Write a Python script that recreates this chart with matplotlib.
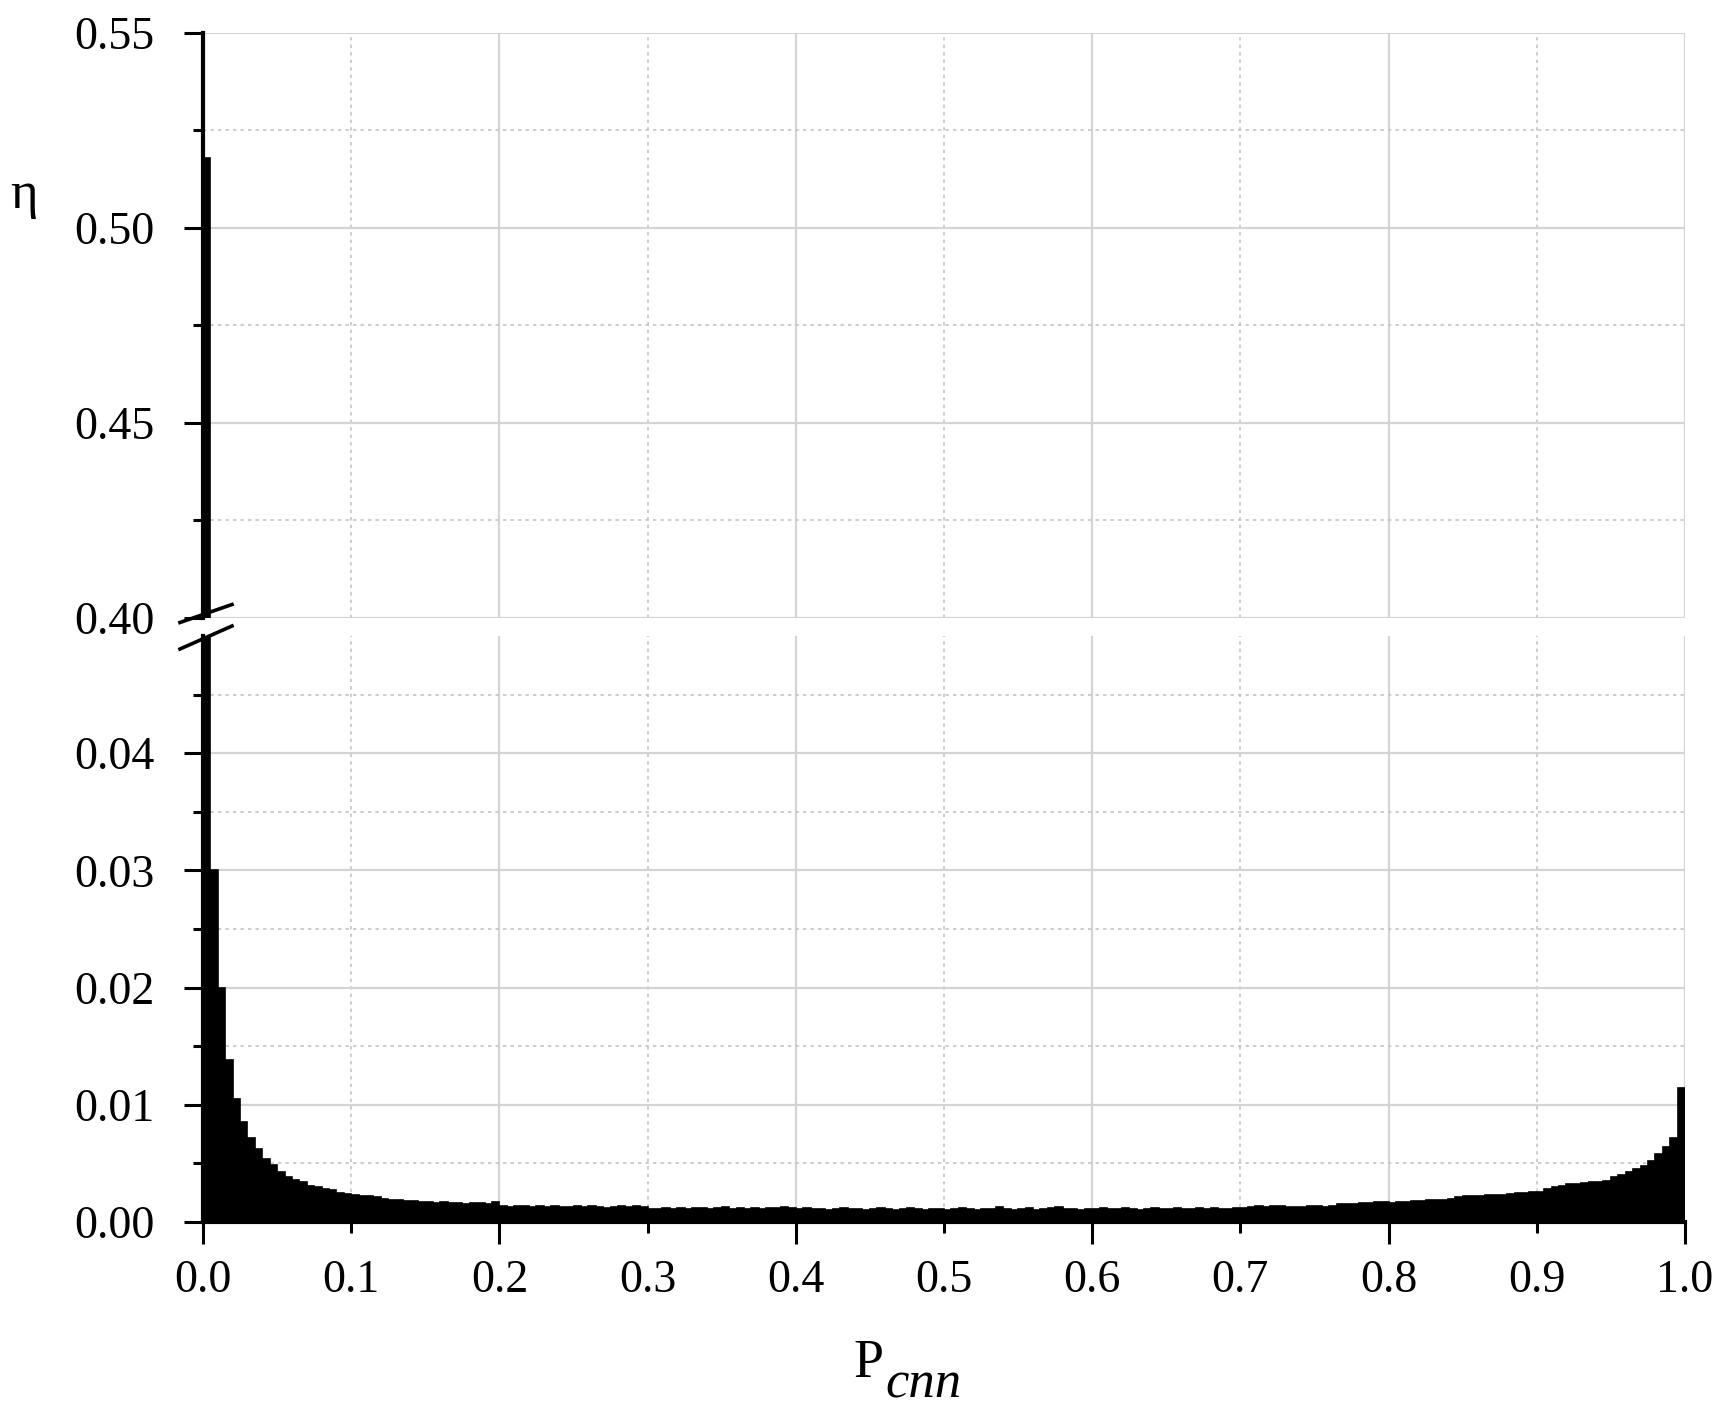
import numpy as np
import matplotlib
matplotlib.use("Agg")
import matplotlib.pyplot as plt
from matplotlib.lines import Line2D

plt.rcParams['font.family'] = ['Liberation Serif', 'DejaVu Serif']

# histogram of P_cnn, 200 bins of width 0.005 on [0, 1]
bin_width = 0.005
eta = [
    0.518, 0.030, 0.020, 0.0138, 0.0105, 0.0085, 0.0072, 0.0062, 0.0054, 0.0049,
    0.0043, 0.0038, 0.0036, 0.0034, 0.0031, 0.0030, 0.0028, 0.0027, 0.0025, 0.0024,
    0.0023, 0.0022, 0.0022, 0.0021, 0.0020, 0.0019, 0.0019, 0.0018, 0.0018, 0.0017,
    # 0.15 - 0.20
    0.0017, 0.0016, 0.0017, 0.0016, 0.0016, 0.0015, 0.0016, 0.0016, 0.0015, 0.0017,
    # 0.20 - 0.30
    0.0014, 0.0013, 0.0014, 0.0014, 0.0013, 0.0014, 0.0013, 0.0014, 0.0013, 0.0013,
    0.0014, 0.0013, 0.0014, 0.0013, 0.0012, 0.0013, 0.0014, 0.0013, 0.0014, 0.0013,
    # 0.30 - 0.40
    0.0011, 0.0011, 0.0012, 0.0011, 0.0012, 0.0011, 0.0012, 0.0012, 0.0011, 0.0012,
    0.0013, 0.0011, 0.0012, 0.0011, 0.0012, 0.0011, 0.0012, 0.0012, 0.0013, 0.0012,
    # 0.40 - 0.50
    0.0011, 0.0012, 0.0011, 0.0011, 0.0010, 0.0011, 0.0012, 0.0011, 0.0011, 0.0010,
    0.0011, 0.0012, 0.0011, 0.0010, 0.0011, 0.0012, 0.0011, 0.0010, 0.0011, 0.0011,
    # 0.50 - 0.60
    0.0010, 0.0011, 0.0012, 0.0011, 0.0010, 0.0011, 0.0011, 0.0013, 0.0011, 0.0010,
    0.0011, 0.0012, 0.0010, 0.0011, 0.0012, 0.0013, 0.0011, 0.0011, 0.0010, 0.0011,
    # 0.60 - 0.70
    0.0011, 0.0012, 0.0011, 0.0011, 0.0012, 0.0011, 0.0010, 0.0011, 0.0012, 0.0011,
    0.0011, 0.0012, 0.0011, 0.0011, 0.0012, 0.0011, 0.0012, 0.0011, 0.0011, 0.0012,
    # 0.70 - 0.80
    0.0012, 0.0013, 0.0014, 0.0013, 0.0014, 0.0014, 0.0013, 0.0013, 0.0013, 0.0014,
    0.0014, 0.0013, 0.0014, 0.0015, 0.0015, 0.0015, 0.0016, 0.0016, 0.0017, 0.0017,
    # 0.80 - 0.90
    0.0016, 0.0017, 0.0017, 0.0018, 0.0018, 0.0019, 0.0019, 0.0019, 0.0020, 0.0021,
    0.0022, 0.0022, 0.0022, 0.0023, 0.0023, 0.0023, 0.0024, 0.0025, 0.0025, 0.0026,
    # 0.90 - 1.00
    0.0026, 0.0028, 0.0030, 0.0031, 0.0032, 0.0032, 0.0033, 0.0034, 0.0034, 0.0035,
    0.0038, 0.0040, 0.0043, 0.0045, 0.0048, 0.0052, 0.0058, 0.0064, 0.0072, 0.0114,
]
edges = np.arange(len(eta) + 1) * bin_width

x_major = [0.0, 0.2, 0.4, 0.6, 0.8, 1.0]
x_minor = [0.1, 0.3, 0.5, 0.7, 0.9]
upper_major = [0.40, 0.45, 0.50, 0.55]
upper_minor = [0.425, 0.475, 0.525]
lower_major = [0.00, 0.01, 0.02, 0.03, 0.04]
lower_minor = [0.005, 0.015, 0.025, 0.035, 0.045]

W, H = 1723, 1411
fig = plt.figure(figsize=(W / 100, H / 100), dpi=100)
left = 203 / W
width = (1685 - 203) / W
ax_top = fig.add_axes([left, 1 - 617.6 / H, width, (617.6 - 33) / H])
ax_bot = fig.add_axes([left, 1 - 1222 / H, width, (1222 - 636) / H])

fs = 33
for ax in (ax_top, ax_bot):
    ax.stairs(eta, edges, fill=True, color='black', linewidth=1.2)
    ax.stairs(eta, edges, fill=False, color='black', linewidth=1.2)
    ax.set_xlim(0, 1.0)
    ax.set_axisbelow(True)
    ax.set_xticks(x_major)
    ax.set_xticks(x_minor, minor=True)
    ax.grid(which='major', color='#d4d4d4', linewidth=1.6, linestyle='-')
    ax.grid(which='minor', color='#c4c4c4', linewidth=1.2, linestyle=(0, (2, 2.5)))
    ax.spines['top'].set_visible(False)
    ax.spines['right'].set_visible(False)
    ax.spines['left'].set_linewidth(3)
    ax.spines['bottom'].set_linewidth(3)
    ax.tick_params(axis='y', which='major', length=14, width=2.2, pad=21, labelsize=fs)
    ax.tick_params(axis='y', which='minor', length=7, width=2.2)

ax_top.set_ylim(0.40, 0.55)
ax_top.set_yticks(upper_major)
ax_top.set_yticks(upper_minor, minor=True)
ax_top.set_yticklabels(['0.40', '0.45', '0.50', '0.55'])
ax_top.spines['bottom'].set_visible(False)
ax_top.tick_params(axis='x', which='both', length=0, labelbottom=False)

ax_bot.set_ylim(0, 0.05)
ax_bot.set_yticks(lower_major)
ax_bot.set_yticks(lower_minor, minor=True)
ax_bot.set_yticklabels(['0.00', '0.01', '0.02', '0.03', '0.04'])
ax_bot.set_xticklabels(['0.0', '0.2', '0.4', '0.6', '0.8', '1.0'])
ax_bot.set_xticklabels(['0.1', '0.3', '0.5', '0.7', '0.9'], minor=True)
ax_bot.tick_params(axis='x', which='major', length=16, width=2.2, pad=11, labelsize=fs)
ax_bot.tick_params(axis='x', which='minor', length=8, width=2.2, pad=19, labelsize=fs)

# break marks on the y axis
for y0, y1 in ((622.5, 604.5), (649.0, 626.0)):
    fig.add_artist(Line2D([180 / W, 232 / W], [1 - y0 / H, 1 - y1 / H],
                          color='black', linewidth=2.6, transform=fig.transFigure))

# axis labels
fig.text(24 / W, 1 - 195 / H, 'η', fontsize=38, ha='center', va='center')
fig.text(853 / W, 1 - 1377 / H, 'P', fontsize=39, ha='left', va='baseline')
fig.text(885 / W, 1 - 1398 / H, 'cnn', fontsize=38, style='italic',
         ha='left', va='baseline')

fig.savefig('out.png', dpi=100, facecolor='white')
